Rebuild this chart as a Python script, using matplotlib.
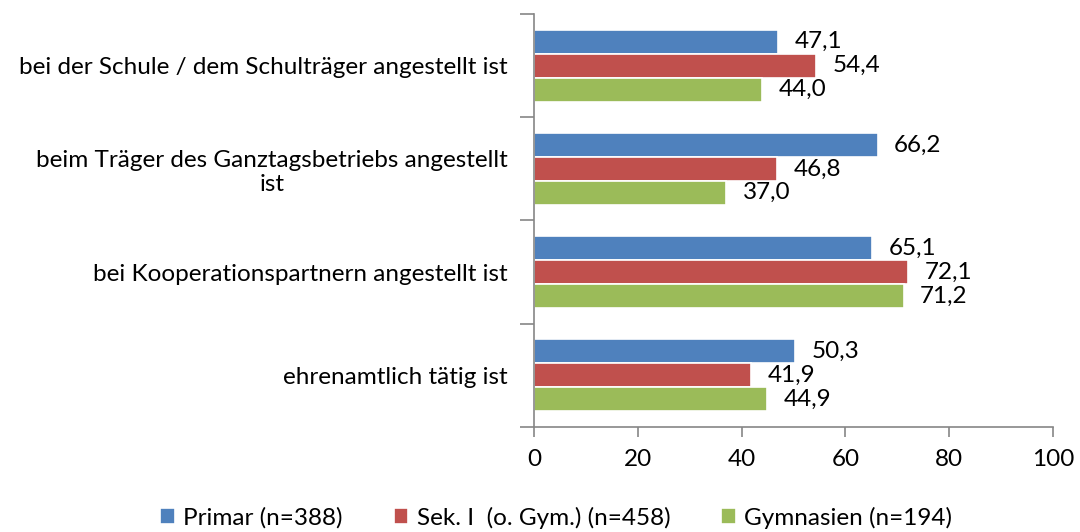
import numpy as np
import matplotlib.pyplot as plt

plt.rcParams['font.family'] = ['Lato', 'DejaVu Sans']

categories = [
    'bei der Schule / dem Schulträger angestellt ist',
    'beim Träger des Ganztagsbetriebs angestellt\nist',
    'bei Kooperationspartnern angestellt ist',
    'ehrenamtlich tätig ist',
]
series = ['Primar (n=388)', 'Sek. I  (o. Gym.) (n=458)', 'Gymnasien (n=194)']
primar = [47.1, 66.2, 65.1, 50.3]
sek1 = [54.4, 46.8, 72.1, 41.9]
gymnasien = [44.0, 37.0, 71.2, 44.9]
colors = ['#4F81BD', '#C0504D', '#9BBB59']

fs = 17.5

fig = plt.figure(figsize=(10.8, 5.32), dpi=100)
ax = fig.add_axes([0.4944, 0.1974, 0.4806, 0.7763])

y = np.arange(len(categories))
h = 0.232
for k, (vals, name, c) in enumerate(zip([primar, sek1, gymnasien], series, colors)):
    pos = y + (k - 1) * h
    ax.barh(pos, vals, height=h, color=c, edgecolor='white', linewidth=1.2, label=name)
    for p, v in zip(pos, vals):
        ax.text(v + 3.2, p, f'{v:.1f}'.replace('.', ','), va='center', ha='left',
                fontsize=fs, color='black')

ax.set_xlim(0, 100)
ax.set_ylim(len(categories) - 0.5, -0.5)
ax.set_xticks(range(0, 101, 20))
ax.tick_params(axis='x', direction='out', length=7, width=1.2, color='#868686',
               labelsize=fs, pad=9)

# category labels via minor ticks, boundaries via major ticks
ax.set_yticks(np.arange(-0.5, len(categories)), labels=[''] * (len(categories) + 1))
ax.set_yticks(y, labels=categories, minor=True)
ax.tick_params(axis='y', which='major', direction='out', length=10, width=1.2, color='#868686')
ax.tick_params(axis='y', which='minor', length=0, labelsize=fs, pad=19)
for lbl in ax.get_yticklabels(minor=True):
    lbl.set_multialignment('center')

for s in ['top', 'right']:
    ax.spines[s].set_visible(False)
for s in ['left', 'bottom']:
    ax.spines[s].set_color('#868686')
    ax.spines[s].set_linewidth(1.2)

leg = fig.legend(loc='lower center', bbox_to_anchor=(0.515, -0.035), ncol=3, frameon=False,
                 fontsize=fs, handlelength=0.6, handleheight=0.6, handletextpad=0.35,
                 columnspacing=2.1)

fig.savefig('out.png', dpi=100)
